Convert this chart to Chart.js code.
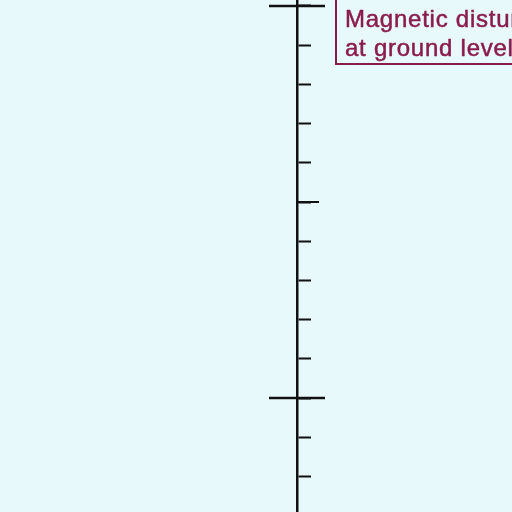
<!DOCTYPE html>
<html>
<head>
<meta charset="utf-8">
<script src="https://cdn.jsdelivr.net/npm/chart.js@4/dist/chart.umd.min.js"></script>
<style>
  html, body { margin: 0; padding: 0; background: #e8f9fc; overflow: hidden; }
  #wrap { position: relative; width: 512px; height: 512px; overflow: hidden; }
  #label {
    position: absolute; left: 335px; top: -10px; width: 300px;
    border: 2px solid #8a1c4d; padding: 12px 0 1px 8px;
    font-family: "Liberation Sans", Arial, sans-serif; font-size: 24px; line-height: 29px;
    letter-spacing: 0.75px;
    color: #8a1c4d; white-space: nowrap;
    -webkit-text-stroke: 0.5px #8a1c4d;
  }
</style>
</head>
<body>
<div id="wrap">
  <canvas id="c" width="512" height="512"></canvas>
  <div id="label">Magnetic disturbance<br>at ground level</div>
</div>
<script>
const tickValues = [-2, -1, 0, 1, 2, 3, 4, 5, 6, 7, 8, 9, 10];
const majorTicks = [0, 10];
const mediumTicks = [5];
const axisMin = -2.908;
const axisMax = 10.153;

const extraTicks = {
  id: 'extraTicks',
  afterDraw(chart) {
    const s = chart.scales.y;
    const ctx = chart.ctx;
    const x0 = s.left;
    ctx.save();
    ctx.strokeStyle = '#111';
    ctx.lineWidth = 2.5;
    majorTicks.forEach(v => {
      const y = s.getPixelForValue(v);
      ctx.beginPath(); ctx.moveTo(269, y); ctx.lineTo(x0 + 28, y); ctx.stroke();
    });
    ctx.lineWidth = 2;
    mediumTicks.forEach(v => {
      const y = s.getPixelForValue(v);
      ctx.beginPath(); ctx.moveTo(x0, y); ctx.lineTo(x0 + 22, y); ctx.stroke();
    });
    ctx.restore();
  }
};

new Chart(document.getElementById('c'), {
  type: 'scatter',
  data: { datasets: [{ data: [] }] },
  options: {
    responsive: false,
    animation: false,
    layout: { padding: { left: 269, right: 0, top: 0, bottom: 0 } },
    plugins: { legend: { display: false }, tooltip: { enabled: false } },
    scales: {
      x: { display: false, min: 0, max: 1 },
      y: {
        position: 'right',
        min: axisMin, max: axisMax,
        afterBuildTicks: s => { s.ticks = tickValues.map(v => ({ value: v })); },
        afterFit: s => { s.width = 215; },
        ticks: { display: false },
        border: { display: true, color: '#111', width: 2.5 },
        grid: {
          drawOnChartArea: false,
          drawTicks: true,
          tickLength: 14,
          tickWidth: 2,
          tickColor: '#111',
          color: '#111'
        }
      }
    }
  },
  plugins: [extraTicks]
});
</script>
</body>
</html>
